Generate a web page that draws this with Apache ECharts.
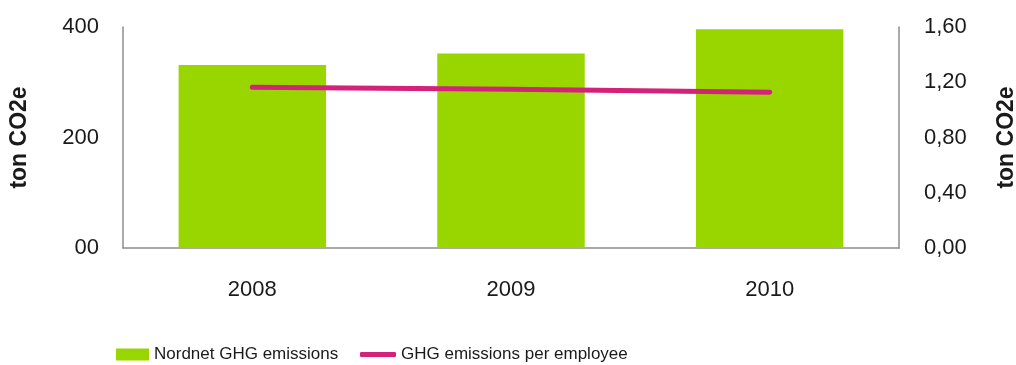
<!DOCTYPE html>
<html>
<head>
<meta charset="utf-8">
<script src="https://cdn.jsdelivr.net/npm/echarts@6/dist/echarts.min.js"></script>
<style>
  html, body { margin: 0; padding: 0; background: #fff; }
  #chart { width: 1016px; height: 365px; }
</style>
</head>
<body>
<div id="chart"></div>
<script>
// Yearly emissions data
const years = ['2008', '2009', '2010'];
const totalEmissions = [331, 352, 396];          // ton CO2e
const perEmployee = [1.163, 1.149, 1.127];        // ton CO2e per employee
const leftTickLabels = { 0: '00', 200: '200', 400: '400' };

const FONT = 'Liberation Sans';
const GREEN = '#99D600';
const PINK = '#D4217A';
const AXIS_GREY = '#8C8C8C';
const TEXT = '#1a1a1a';

const chart = echarts.init(document.getElementById('chart'), null, { renderer: 'canvas' });

const legendText = { fontFamily: FONT, fontSize: 17, color: TEXT };

chart.setOption({
  animation: false,
  textStyle: { fontFamily: FONT },
  grid: {
    left: 123, right: 117, top: 27, bottom: 117,
    containLabel: false,
    outerBoundsMode: 'none'
  },
  legend: [
    {
      left: 111,
      top: 341,
      itemWidth: 33,
      itemHeight: 12,
      itemGap: 0,
      textStyle: legendText,
      data: [{ name: 'Nordnet GHG emissions', icon: 'rect' }]
    },
    {
      left: 355,
      top: 341,
      itemWidth: 36,
      itemHeight: 5,
      itemGap: 0,
      textStyle: legendText,
      data: [{ name: 'GHG emissions per employee', icon: 'roundRect' }]
    }
  ],
  xAxis: {
    type: 'category',
    data: years,
    axisLine: { lineStyle: { color: AXIS_GREY, width: 1.5 } },
    axisTick: { show: false },
    axisLabel: { color: TEXT, fontSize: 22, margin: 31, fontFamily: FONT }
  },
  yAxis: [
    {
      type: 'value',
      min: 0, max: 400, interval: 200,
      name: 'ton CO2e',
      nameLocation: 'middle',
      nameGap: 92,
      nameTextStyle: { fontWeight: 'bold', fontSize: 23, color: TEXT, fontFamily: FONT },
      axisLine: { show: true, lineStyle: { color: AXIS_GREY, width: 1.5 } },
      axisTick: { show: false },
      splitLine: { show: false },
      axisLabel: {
        color: TEXT, fontSize: 22, margin: 24, fontFamily: FONT,
        formatter: v => leftTickLabels[v] !== undefined ? leftTickLabels[v] : String(v)
      }
    },
    {
      type: 'value',
      min: 0, max: 1.6, interval: 0.4,
      name: 'ton CO2e',
      nameLocation: 'middle',
      nameGap: 96,
      nameTextStyle: { fontWeight: 'bold', fontSize: 23, color: TEXT, fontFamily: FONT },
      axisLine: { show: true, lineStyle: { color: AXIS_GREY, width: 1.5 } },
      axisTick: { show: false },
      splitLine: { show: false },
      axisLabel: {
        color: TEXT, fontSize: 22, margin: 25, fontFamily: FONT,
        formatter: v => v.toFixed(2).replace('.', ',')
      }
    }
  ],
  series: [
    {
      name: 'Nordnet GHG emissions',
      type: 'bar',
      data: totalEmissions,
      barWidth: '57%',
      itemStyle: { color: GREEN },
      yAxisIndex: 0
    },
    {
      name: 'GHG emissions per employee',
      type: 'line',
      data: perEmployee,
      yAxisIndex: 1,
      symbol: 'none',
      lineStyle: { color: PINK, width: 5, cap: 'round' },
      itemStyle: { color: PINK }
    }
  ]
});
</script>
</body>
</html>
